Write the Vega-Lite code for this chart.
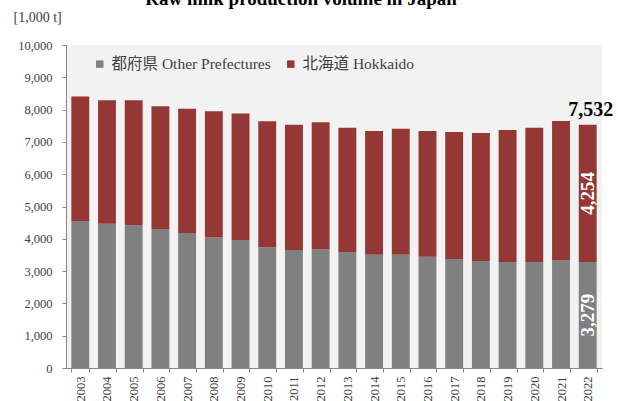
{
  "$schema": "https://vega.github.io/schema/vega-lite/v6.json",
  "width": 536,
  "height": 323,
  "autosize": {"type": "none"},
  "padding": {"left": 66, "top": 45, "right": 16, "bottom": 33},
  "background": "white",
  "title": {
    "text": "Raw milk production volume in Japan",
    "font": "Liberation Serif, Times New Roman, serif",
    "fontSize": 19,
    "fontWeight": "bold",
    "color": "#000000",
    "anchor": "middle",
    "frame": "group",
    "dx": -33,
    "baseline": "alphabetic",
    "dy": 18
  },
  "config": {
    "view": {"fill": "#f2f2f2", "stroke": null},
    "font": "Liberation Serif, Times New Roman, serif",
    "axis": {"labelFont": "Liberation Serif, Times New Roman, serif", "titleFont": "Liberation Serif, Times New Roman, serif"},
    "axisY": {
      "titleAngle": 0,
      "titleAlign": "left",
      "titleBaseline": "middle",
      "titleX": -53,
      "titleY": -28,
      "titleFontSize": 14,
      "titleFontWeight": "normal",
      "titleColor": "#404040",
      "labelOverlap": false,
      "grid": false,
      "labelFontSize": 12.5,
      "labelColor": "#404040",
      "labelPadding": 10,
      "tickColor": "#868686",
      "tickSize": 4,
      "domainColor": "#868686"
    },
    "legend": {"labelFont": "Liberation Serif, Noto Sans CJK JP, serif"}
  },
  "datasets": {
    "prod": [
      {"year": "2003", "region": "都府県 Other Prefectures", "rank": 1, "value": 4550},
      {"year": "2004", "region": "都府県 Other Prefectures", "rank": 1, "value": 4466},
      {"year": "2005", "region": "都府県 Other Prefectures", "rank": 1, "value": 4416},
      {"year": "2006", "region": "都府県 Other Prefectures", "rank": 1, "value": 4302},
      {"year": "2007", "region": "都府県 Other Prefectures", "rank": 1, "value": 4178},
      {"year": "2008", "region": "都府県 Other Prefectures", "rank": 1, "value": 4044},
      {"year": "2009", "region": "都府県 Other Prefectures", "rank": 1, "value": 3961},
      {"year": "2010", "region": "都府県 Other Prefectures", "rank": 1, "value": 3735},
      {"year": "2011", "region": "都府県 Other Prefectures", "rank": 1, "value": 3651},
      {"year": "2012", "region": "都府県 Other Prefectures", "rank": 1, "value": 3673},
      {"year": "2013", "region": "都府県 Other Prefectures", "rank": 1, "value": 3589},
      {"year": "2014", "region": "都府県 Other Prefectures", "rank": 1, "value": 3506},
      {"year": "2015", "region": "都府県 Other Prefectures", "rank": 1, "value": 3506},
      {"year": "2016", "region": "都府県 Other Prefectures", "rank": 1, "value": 3444},
      {"year": "2017", "region": "都府県 Other Prefectures", "rank": 1, "value": 3372},
      {"year": "2018", "region": "都府県 Other Prefectures", "rank": 1, "value": 3310},
      {"year": "2019", "region": "都府県 Other Prefectures", "rank": 1, "value": 3285},
      {"year": "2020", "region": "都府県 Other Prefectures", "rank": 1, "value": 3280},
      {"year": "2021", "region": "都府県 Other Prefectures", "rank": 1, "value": 3341},
      {"year": "2022", "region": "都府県 Other Prefectures", "rank": 1, "value": 3279},
      {"year": "2003", "region": "北海道 Hokkaido", "rank": 2, "value": 3855},
      {"year": "2004", "region": "北海道 Hokkaido", "rank": 2, "value": 3821},
      {"year": "2005", "region": "北海道 Hokkaido", "rank": 2, "value": 3877},
      {"year": "2006", "region": "北海道 Hokkaido", "rank": 2, "value": 3799},
      {"year": "2007", "region": "北海道 Hokkaido", "rank": 2, "value": 3846},
      {"year": "2008", "region": "北海道 Hokkaido", "rank": 2, "value": 3902},
      {"year": "2009", "region": "北海道 Hokkaido", "rank": 2, "value": 3920},
      {"year": "2010", "region": "北海道 Hokkaido", "rank": 2, "value": 3901},
      {"year": "2011", "region": "北海道 Hokkaido", "rank": 2, "value": 3881},
      {"year": "2012", "region": "北海道 Hokkaido", "rank": 2, "value": 3932},
      {"year": "2013", "region": "北海道 Hokkaido", "rank": 2, "value": 3850},
      {"year": "2014", "region": "北海道 Hokkaido", "rank": 2, "value": 3830},
      {"year": "2015", "region": "北海道 Hokkaido", "rank": 2, "value": 3902},
      {"year": "2016", "region": "北海道 Hokkaido", "rank": 2, "value": 3892},
      {"year": "2017", "region": "北海道 Hokkaido", "rank": 2, "value": 3933},
      {"year": "2018", "region": "北海道 Hokkaido", "rank": 2, "value": 3964},
      {"year": "2019", "region": "北海道 Hokkaido", "rank": 2, "value": 4082},
      {"year": "2020", "region": "北海道 Hokkaido", "rank": 2, "value": 4159},
      {"year": "2021", "region": "北海道 Hokkaido", "rank": 2, "value": 4305},
      {"year": "2022", "region": "北海道 Hokkaido", "rank": 2, "value": 4254}
    ],
    "totals": [
      {"year": "2022", "total": 7532}
    ]
  },
  "encoding": {
    "x": {
      "field": "year",
      "type": "ordinal",
      "scale": {"paddingInner": 0.33, "paddingOuter": 0.2},
      "axis": {
        "title": null,
        "labelAngle": -90,
        "labelAlign": "right",
        "labelBaseline": "middle",
        "labelFontSize": 12.5,
        "labelColor": "#404040",
        "labelPadding": 4,
        "tickBand": "extent",
        "tickColor": "#868686",
        "tickSize": 4,
        "domainColor": "#868686",
        "domainWidth": 1
      }
    }
  },
  "layer": [
    {
      "data": {"name": "prod"},
      "mark": {"type": "bar"},
      "encoding": {
        "y": {
          "field": "value",
          "type": "quantitative",
          "stack": "zero",
          "title": "[1,000 t]",
          "scale": {"domain": [0, 10000], "nice": false},
          "axis": {
            "values": [0, 1000, 2000, 3000, 4000, 5000, 6000, 7000, 8000, 9000, 10000],
            "format": ",.0f"
          }
        },
        "color": {
          "field": "region",
          "type": "nominal",
          "scale": {
            "domain": ["都府県 Other Prefectures", "北海道 Hokkaido"],
            "range": ["#808080", "#953735"]
          },
          "legend": {
            "title": null,
            "orient": "none",
            "legendX": 26,
            "legendY": 11,
            "direction": "horizontal",
            "symbolType": "square",
            "symbolSize": 56,
            "symbolStrokeWidth": 0,
            "labelFontSize": 15.5,
            "labelLimit": 400,
            "labelColor": "#404040",
            "columnPadding": 12,
            "labelOffset": 4,
            "padding": 0
          }
        },
        "order": {"field": "rank", "type": "quantitative"}
      }
    },
    {
      "data": {"name": "prod"},
      "transform": [{"filter": "datum.year == '2022'"}],
      "mark": {
        "type": "text",
        "angle": -90,
        "align": "center",
        "baseline": "middle",
        "fontSize": 19,
        "fontWeight": "bold",
        "color": "white"
      },
      "encoding": {
        "y": {
          "field": "value",
          "type": "quantitative",
          "stack": "zero",
          "bandPosition": 0.5,
          "title": "[1,000 t]",
          "axis": {
            "values": [0, 1000, 2000, 3000, 4000, 5000, 6000, 7000, 8000, 9000, 10000],
            "format": ",.0f"
          }
        },
        "text": {"field": "value", "type": "quantitative", "format": ",.0f"},
        "order": {"field": "rank", "type": "quantitative"}
      }
    },
    {
      "data": {"name": "totals"},
      "mark": {
        "type": "text",
        "align": "center",
        "baseline": "alphabetic",
        "dx": 3,
        "dy": -9,
        "fontSize": 20,
        "fontWeight": "bold",
        "color": "#000000"
      },
      "encoding": {
        "y": {
          "field": "total",
          "type": "quantitative",
          "title": "[1,000 t]",
          "axis": {
            "values": [0, 1000, 2000, 3000, 4000, 5000, 6000, 7000, 8000, 9000, 10000],
            "format": ",.0f"
          }
        },
        "text": {"field": "total", "type": "quantitative", "format": ",.0f"}
      }
    }
  ]
}
